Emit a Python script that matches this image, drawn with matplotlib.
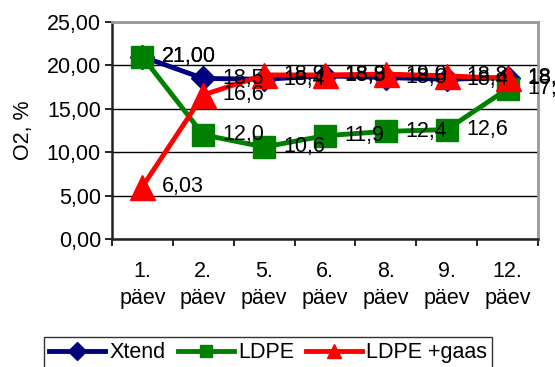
import matplotlib.pyplot as plt
from matplotlib.ticker import FuncFormatter, FixedLocator
import numpy as np

plt.rcParams['font.family'] = ['Liberation Sans', 'DejaVu Sans']

days = ['1.\npäev', '2.\npäev', '5.\npäev', '6.\npäev', '8.\npäev', '9.\npäev', '12.\npäev']
xtend = [21.00, 18.5, 18.4, 18.8, 18.6, 18.4, 18.6]
ldpe = [21.00, 12.0, 10.6, 11.9, 12.4, 12.6, 17.3]
ldpe_gaas = [6.03, 16.6, 18.9, 18.9, 19.0, 18.8, 18.5]

xtend_lbl = ['21,00', '18,5', '18,4', '18,8', '18,6', '18,4', '18,6']
ldpe_lbl = ['21,00', '12,0', '10,6', '11,9', '12,4', '12,6', '17,3']
gaas_lbl = ['6,03', '16,6', '18,9', '18,9', '19,0', '18,8', '18,5']

FS = 15.5

fig = plt.figure(figsize=(5.55, 3.67), dpi=100)
ax = fig.add_axes([112 / 555, 1 - 239 / 367, 426 / 555, 217 / 367])

x = np.arange(len(days))
series = [
    (xtend, xtend_lbl, 'Xtend', '#000080', 'D', 12, 9),
    (ldpe, ldpe_lbl, 'LDPE', '#008000', 's', 16.5, 9),
    (ldpe_gaas, gaas_lbl, 'LDPE +gaas', '#FF0000', '^', 18, 10),
]
for vals, lbls, name, col, mk, ms, lms in series:
    ax.plot(x, vals, color=col, lw=3.5, marker=mk, ms=ms, mec=col, mfc=col,
            label=name, clip_on=False, zorder=3)
    for xi, v, t in zip(x, vals, lbls):
        ax.annotate(t, (xi, v), xytext=(14, 0), textcoords='offset points',
                    va='center', ha='left', fontsize=FS, color='black',
                    annotation_clip=False, zorder=5)

ax.set_xlim(-0.5, len(days) - 0.5)
ax.set_ylim(0, 25)
ax.set_yticks(np.arange(0, 26, 5))
ax.yaxis.set_major_formatter(FuncFormatter(lambda v, p: f'{v:.2f}'.replace('.', ',')))
ax.set_xticks(x)
ax.set_xticklabels(days, linespacing=1.35)
ax.xaxis.set_minor_locator(FixedLocator(np.arange(-0.5, len(days), 1)))
ax.tick_params(axis='x', which='major', length=0, pad=16, labelsize=FS)
ax.tick_params(axis='x', which='minor', length=5, width=1.2, direction='out')
ax.tick_params(axis='y', length=5, width=1.2, direction='out', labelsize=FS, pad=3)

ax.grid(axis='y', color='black', lw=1)
ax.set_axisbelow(True)
for s in ['left', 'bottom']:
    ax.spines[s].set_color('#222222')
    ax.spines[s].set_linewidth(1.8)
for s in ['top', 'right']:
    ax.spines[s].set_color('#999999')
    ax.spines[s].set_linewidth(2)

fig.text(24 / 555, 1 - 130 / 367, 'O2, %', rotation=90, fontsize=FS,
         ha='center', va='center')

leg = fig.legend(loc='upper left', bbox_to_anchor=(44 / 555, 1 - 337 / 367),
                 ncol=3, fontsize=FS, frameon=True, fancybox=False,
                 edgecolor='black', handlelength=2.6, handletextpad=0.2,
                 columnspacing=0.55, borderpad=0.25, borderaxespad=0)
leg.get_frame().set_linewidth(1)
for h, (_, _, _, _, _, _, lms) in zip(leg.legend_handles, series):
    h.set_markersize(lms)

fig.savefig('out.png', dpi=100)
